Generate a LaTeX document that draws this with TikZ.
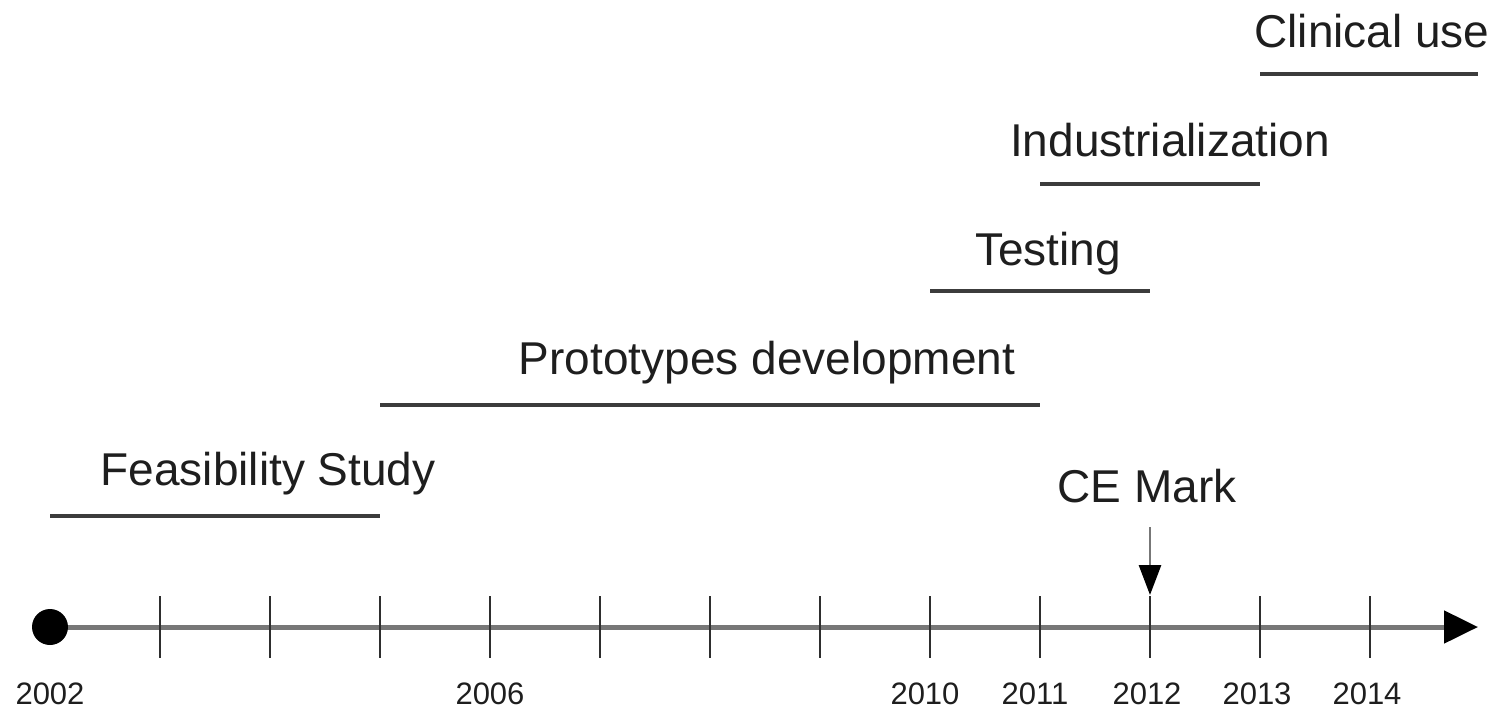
\documentclass[tikz,border=0pt]{standalone}
\usepackage{fontspec}
\setmainfont{Liberation Sans}
\usetikzlibrary{arrows.meta}
\definecolor{axisgray}{HTML}{777777}
\definecolor{tickgray}{HTML}{2E2E2E}
\definecolor{bargray}{HTML}{3C3C3C}
\definecolor{inkgray}{HTML}{1E1E1E}
\begin{document}
\begin{tikzpicture}[x=0.5pt,y=-0.5pt,
  phase/.style={font=\fontsize{23}{27}\selectfont, text=inkgray, anchor=base, inner sep=0pt},
  yearlabel/.style={font=\fontsize{15.5}{18}\selectfont, text=inkgray, anchor=base, inner sep=0pt},
  bar/.style={draw=bargray, line width=2pt},
  tickmark/.style={draw=tickgray, line width=1.4pt},
  axisline/.style={draw=axisgray, line width=2.5pt, -{Triangle[length=17pt,width=16pt,color=black]}},
  pointer/.style={draw=axisgray, line width=1.4pt, -{Triangle[length=15pt,width=11pt,color=black]}}]
\useasboundingbox (0,0) rectangle (1500,708);

% year positions along the axis (110 px per year, 2002 at x=50)
\foreach \yr [count=\i from 0] in {2002,...,2014}
  \coordinate (t\yr) at ({50+110*\i},627);
\coordinate (axisend) at (1478,627);

% main axis with start dot
\draw[axisline] (t2002) -- (axisend);
\node[circle, fill=black, inner sep=0pt, minimum size=18pt] (start) at (t2002) {};

% tick marks
\foreach \yr in {2003,...,2014}
  \draw[tickmark] ([yshift=15.5pt]t\yr) -- ([yshift=-15.5pt]t\yr);

% year labels
\foreach \yr/\dx in {2002/0,2006/0,2010/-2.5,2011/-2.5,2012/-1.5,2013/-1.5,2014/-1.5}
  \node[yearlabel] (lab\yr) at ([xshift=\dx pt, yshift=-38.5pt]t\yr) {\yr};

% phases: bar and label
\coordinate (fs1) at (50,516);   \coordinate (fs2) at (380,516);
\coordinate (pd1) at (380,405);  \coordinate (pd2) at (1040,405);
\coordinate (ts1) at (930,291);  \coordinate (ts2) at (1150,291);
\coordinate (in1) at (1040,184); \coordinate (in2) at (1260,184);
\coordinate (cu1) at (1260,74);  \coordinate (cu2) at (1478,74);
\draw[bar] (fs1) -- (fs2);
\draw[bar] (pd1) -- (pd2);
\draw[bar] (ts1) -- (ts2);
\draw[bar] (in1) -- (in2);
\draw[bar] (cu1) -- (cu2);
\node[phase] (feas) at (268,485) {Feasibility Study};
\node[phase] (proto) at (767,374) {Prototypes development};
\node[phase] (test) at (1048,265) {Testing};
\node[phase] (indus) at (1170,156) {Industrialization};
\node[phase] (clin) at (1372,47) {Clinical use};

% CE mark milestone
\node[phase] (ce) at (1147,502) {CE Mark};
\coordinate (cetop) at (1150,527);
\draw[pointer] (cetop) -- ([yshift=16pt]t2012);
\end{tikzpicture}
\end{document}
